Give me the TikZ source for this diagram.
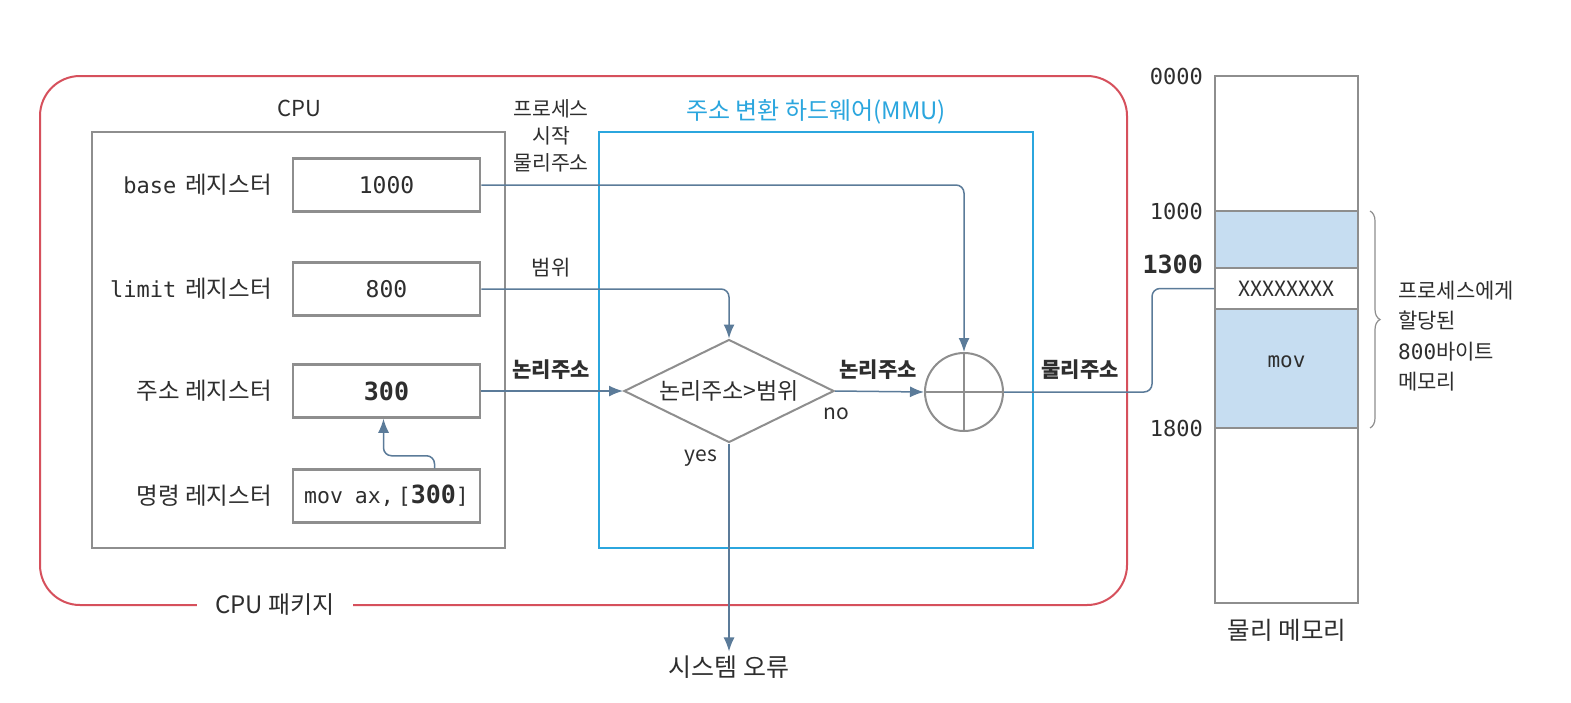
\documentclass[tikz,border=0pt]{standalone}
\usepackage{fontspec}
\setmainfont{Noto Sans CJK KR}
\newfontfamily\mono{DejaVu Sans Mono}
\usetikzlibrary{arrows.meta,shapes.geometric,decorations.pathreplacing,calc}
\definecolor{redbox}{HTML}{D6505C}
\definecolor{mmublue}{HTML}{2BA6DE}
\definecolor{boxgray}{HTML}{8E8E8E}
\definecolor{arrowc}{HTML}{5B7B99}
\definecolor{memfill}{HTML}{C6DDF1}
\definecolor{txt}{HTML}{2E2E2E}
\begin{document}
\begin{tikzpicture}[x=1pt,y=-1pt,
  font=\fontsize{21}{25}\selectfont, text=txt,
  frame/.style={draw=boxgray, line width=2.5pt, inner sep=0pt},
  reg/.style={frame, minimum width=187pt, minimum height=53pt, font=\mono\fontsize{23}{26}\selectfont},
  lbl/.style={anchor=east, inner sep=0pt, font=\fontsize{23.5}{27}\selectfont},
  plain/.style={inner sep=0pt},
  conn/.style={draw=arrowc, line width=1.5pt, rounded corners=8pt},
  arr/.style={conn, -{Latex[length=14pt,width=11pt]}},
  seg/.style={draw=boxgray, line width=2pt, minimum width=143pt, inner sep=0pt},
  addr/.style={anchor=east, inner sep=0pt, font=\mono\fontsize{22}{25}\selectfont},
  bk/.style={font=\bfseries\fontsize{21}{25}\selectfont}
]
\useasboundingbox (0,0) rectangle (1571,702);
\fill[white] (0,0) rectangle (1571,702);

% CPU package
\draw[redbox, line width=2pt, rounded corners=40pt] (40,76) rectangle (1127,605);
\node[fill=white, inner xsep=18pt, inner ysep=2pt, font=\fontsize{24}{28}\selectfont] (pkg) at (275,605) {CPU 패키지};

% CPU
\node[frame, minimum width=413pt, minimum height=416pt] (cpu) at (298.5,340) {};
\node[plain, font=\fontsize{22}{26}\selectfont] (cputitle) at (299,108) {CPU};
\node[reg] (base) at (386.5,185) {1000};
\node[reg] (limit) at (386.5,289) {800};
\node[reg] (addr) at (386.5,391) {\bfseries\fontsize{25}{28}\selectfont 300};
\node[reg] (instr) at (386.5,496) {\fontsize{21.5}{26}\selectfont mov\hspace{12pt}ax,\hspace{4pt}[{\bfseries\fontsize{25}{28}\selectfont 300}]};
\node[lbl] (lbase) at (272,185) {{\mono\fontsize{22}{26}\selectfont base\hspace{9pt}}레지스터};
\node[lbl] (llimit) at (272,289) {{\mono\fontsize{22}{26}\selectfont limit\hspace{9pt}}레지스터};
\node[lbl] (laddr) at (272,391) {주소 레지스터};
\node[lbl] (linstr) at (272,496) {명령 레지스터};

% MMU
\node[draw=mmublue, line width=2.5pt, inner sep=0pt, minimum width=434pt, minimum height=416pt] (mmu) at (816,340) {};
\node[plain, text=mmublue, font=\fontsize{24}{28}\selectfont] (mmutitle) at (816,112) {주소 변환 하드웨어(MMU)};
\node[shape=diamond, draw=boxgray, line width=2pt, inner sep=0pt, aspect=2, minimum width=210pt, minimum height=103pt, font=\fontsize{23}{26}\selectfont] (cmp) at (729,391) {논리주소>범위};
\node[circle, draw=boxgray, line width=2pt, minimum size=78pt, inner sep=0pt] (adder) at (964,392) {};
\draw[boxgray, line width=2pt] (adder.north) -- (adder.south) (adder.west) -- (adder.east);

% labels on connectors
\node[plain, align=center, font=\fontsize{20.5}{27}\selectfont] (lstart) at (551,136) {프로세스\\시작\\물리주소};
\node[plain] (lrange) at (551,268) {범위};
\node[plain, bk] (llog1) at (551,370) {논리주소};
\node[plain, bk] (llog2) at (878,370) {논리주소};
\node[plain, bk] (lphys) at (1080,370) {물리주소};
\node[plain] (lno) at (836,414) {no};
\node[plain] (lyes) at (701,458) {yes};
\node[inner sep=4pt, font=\fontsize{25}{28}\selectfont] (err) at (729,667) {시스템\hspace{6pt}오류};

% memory
\node[seg, minimum height=527pt] (mem) at (1286.5,339.5) {};
\node[seg, fill=memfill, minimum height=57pt] (m1) at (1286.5,239.5) {};
\node[seg, fill=white, minimum height=41pt] (xrow) at (1286.5,288.5) {XXXXXXXX};
\node[seg, fill=memfill, minimum height=119pt, font=\mono\fontsize{21}{25}\selectfont] (m2) at (1286.5,368.5) {\raisebox{14pt}{mov}};
\node[addr] (a0) at (1203,76) {0000};
\node[addr] (a1) at (1203,211) {1000};
\node[addr, font=\mono\bfseries\fontsize{25}{28}\selectfont] (a2) at (1203,264) {1300};
\node[addr] (a3) at (1203,428) {1800};
\node[plain, font=\fontsize{24.5}{28}\selectfont] (memtitle) at (1287,630) {물리\hspace{6pt}메모리};
\draw[boxgray, line width=1.2pt, decorate, decoration={brace, amplitude=10pt}] (1370,211) -- (1370,428);
\node[anchor=west, inner sep=0pt, align=left, font=\fontsize{21}{30.5}\selectfont] (alloc) at (1398,336) {프로세스에게\\할당된\\{\mono 800}바이트\\메모리};

% connectors
\draw[arr] (base.east) -| (adder.north);
\draw[arr] (limit.east) -| (cmp.north);
\draw[arr] (addr.east) -- (cmp.west);
\draw[arr] (cmp.east) -- (adder.west);
\draw[arr] (cmp.south) -- (err.north);
\coordinate (bend) at (1152,392);
\draw[conn] (adder.east) -- (bend) |- (xrow.west);
\draw[arr] ([xshift=48pt]instr.north) |- ([xshift=-3pt,yshift=-37pt]addr.south) -- ([xshift=-3pt]addr.south);
\end{tikzpicture}
\end{document}
